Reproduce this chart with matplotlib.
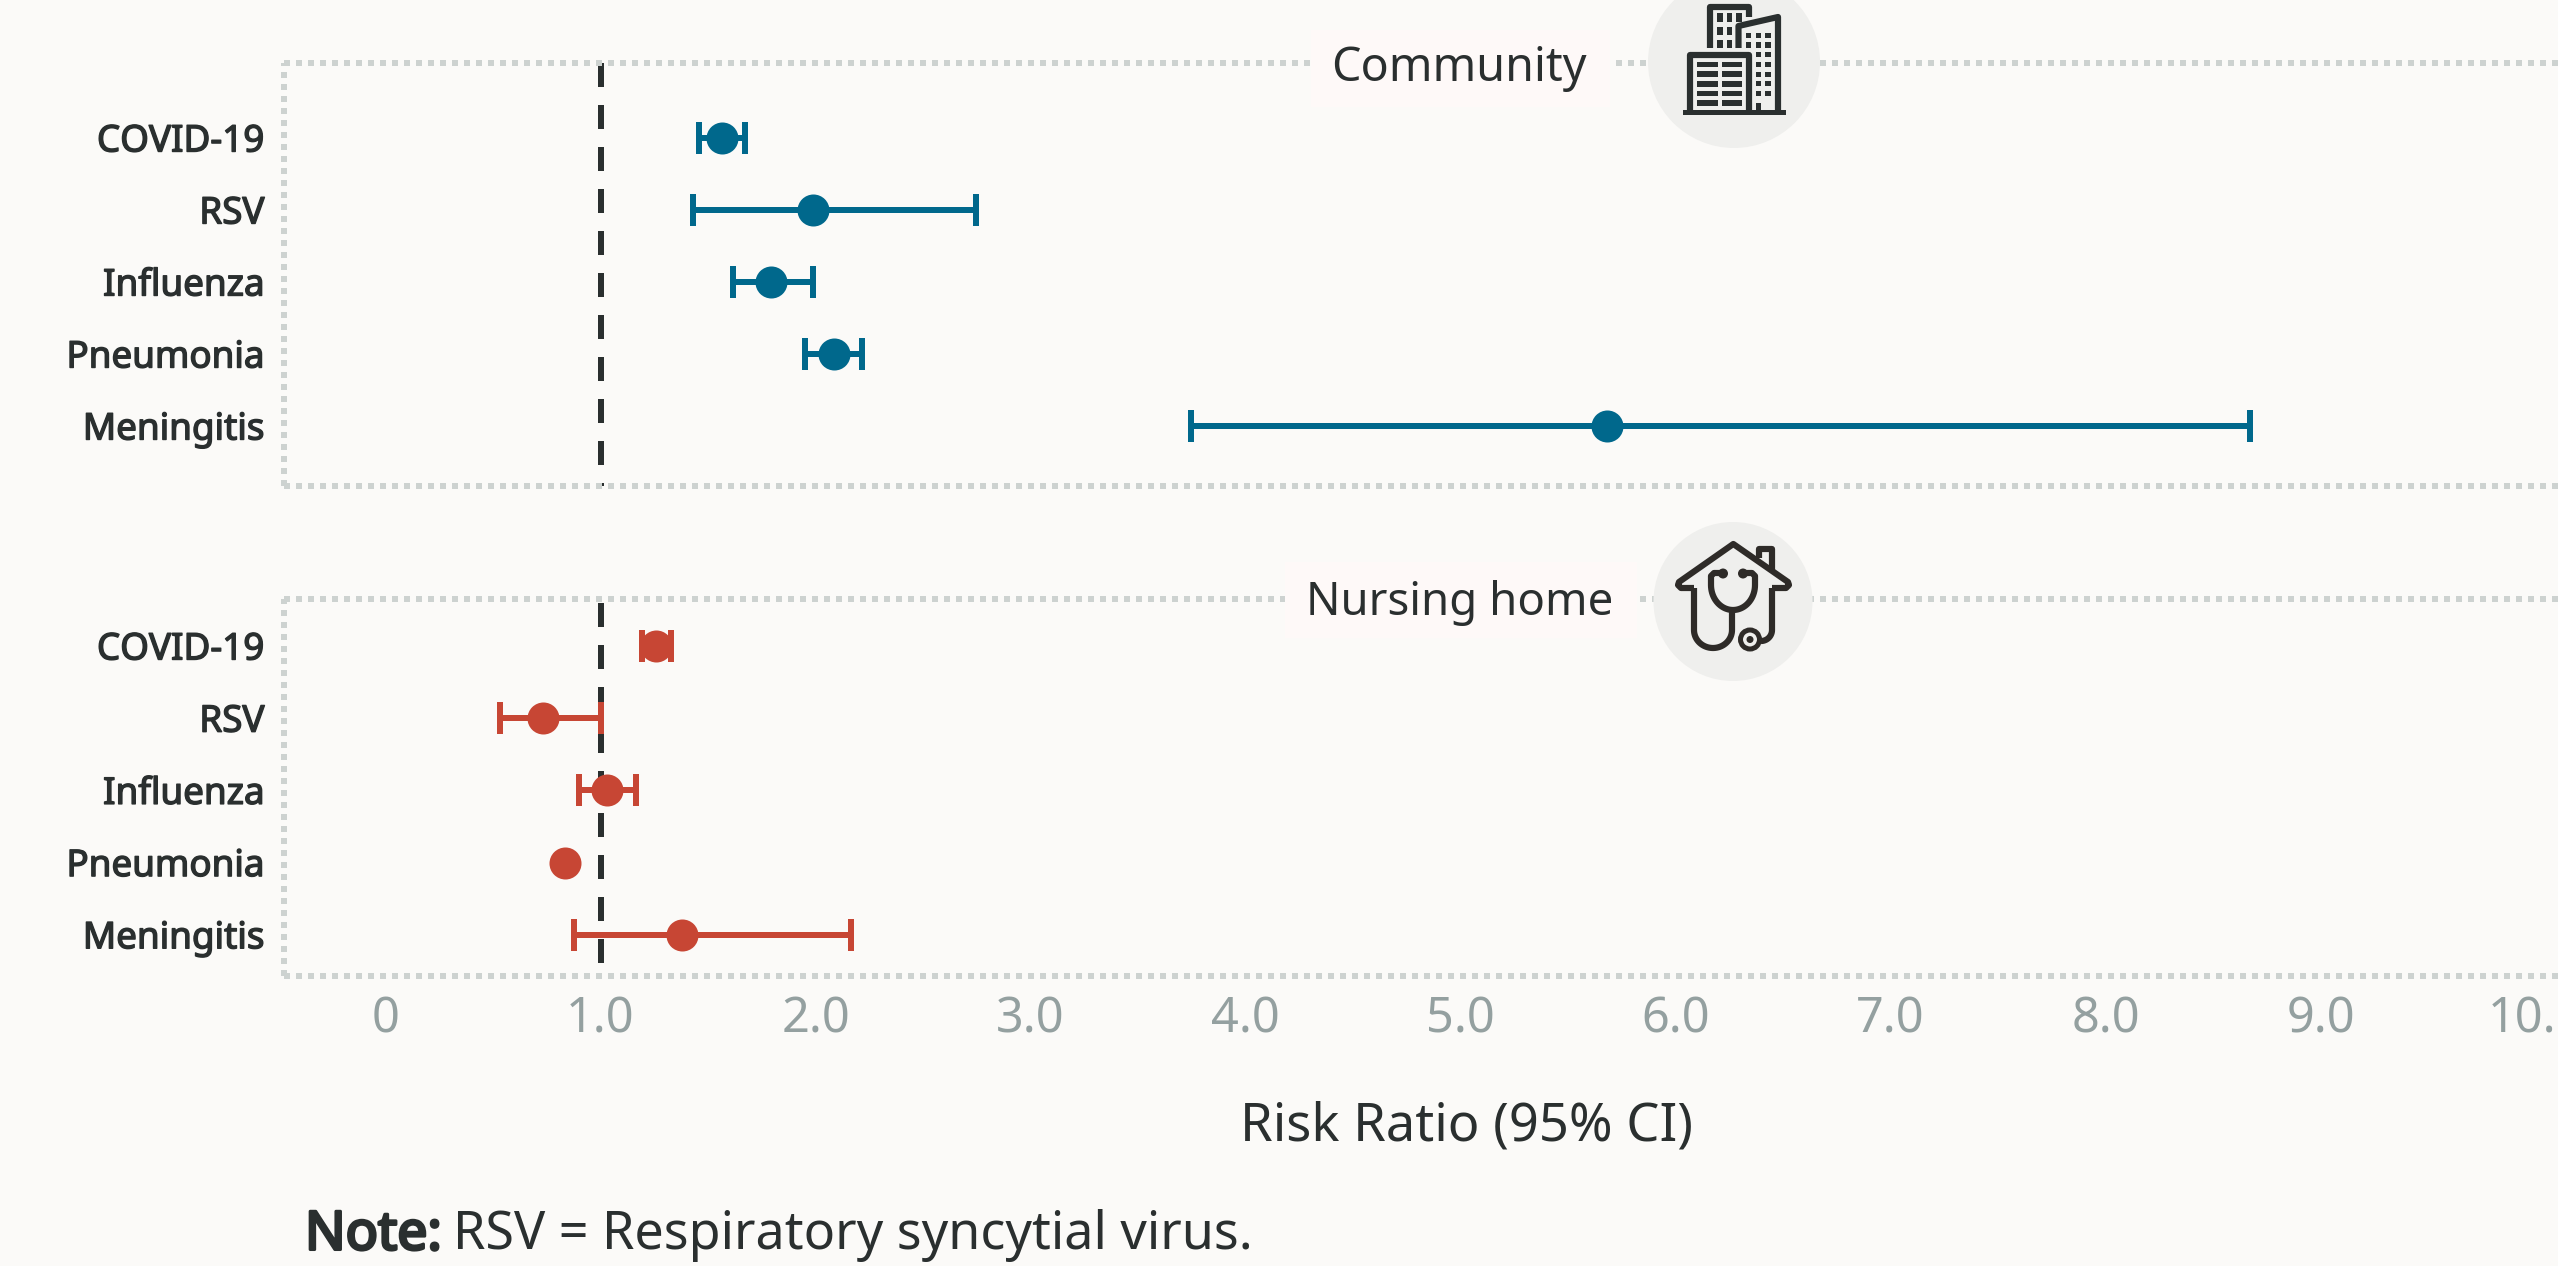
import numpy as np
import matplotlib
matplotlib.use("Agg")
import matplotlib.pyplot as plt
import matplotlib.patheffects as pe
from matplotlib.patches import Circle, Rectangle

# Risk ratios (95% CI)
conditions = ["COVID-19", "RSV", "Influenza", "Pneumonia", "Meningitis"]
community_rr = [1.565, 1.99, 1.795, 2.086, 5.68]
community_low = [1.46, 1.43, 1.615, 1.95, 3.746]
community_high = [1.67, 2.745, 1.99, 2.217, 8.67]
nursing_rr = [1.26, 0.734, 1.03, 0.833, 1.38]
nursing_low = [1.195, 0.534, 0.90, np.nan, 0.876]
nursing_high = [1.33, 1.0, 1.166, np.nan, 2.165]
x_ticks = [0, 1, 2, 3, 4, 5, 6, 7, 8, 9, 10]
x_tick_labels = ["0", "1.0", "2.0", "3.0", "4.0", "5.0", "6.0", "7.0", "8.0", "9.0", "10.0"]

W, H = 2558, 1266
BG = "#FBFAF8"
INK = "#2A2F2F"
BLUE = "#00688C"
RED = "#C74634"
DOTS = "#CDD2D0"
TICK = "#94A0A0"
px = 72 / 100  # one pixel in points at dpi 100

plt.rcParams["font.family"] = ["Noto Sans", "DejaVu Sans"]
fig = plt.figure(figsize=(W / 100, H / 100), dpi=100, facecolor=BG)


def heavier(width, color=INK):
    """ The installed Noto Sans has one weight, so thicken it with an outline. """
    return [pe.withStroke(linewidth=width, foreground=color)]


def panel(top, bottom, row0, step, rr, low, high, color, ref_start=0.0):
    """ Axes placed by pixel edges, with x shared scale 0 = 385.5 px, 215 px per unit. """
    ax = fig.add_axes([284 / W, 1 - bottom / H, (W - 284) / W, (bottom - top) / H])
    ax.set_facecolor(BG)
    ax.set_xlim((284 - 385.5) / 215, (W - 385.5) / 215)
    ax.set_ylim((bottom - row0) / step, (top - row0) / step)
    for name in ["top", "left", "bottom"]:
        ax.spines[name].set_color(DOTS)
        ax.spines[name].set_linewidth(6 * px)
        ax.spines[name].set_linestyle((0, (1, 1)))
        ax.spines[name].set_capstyle("butt")
    ax.spines["right"].set_visible(False)

    ax.axvline(1, ymin=1 - ref_start, ymax=0, color=INK, lw=6 * px,
               dashes=(24 / 6, 18 / 6), dash_capstyle="butt", zorder=1)

    rr, low, high = np.array(rr), np.array(low), np.array(high)
    ax.errorbar(rr, range(len(rr)), xerr=[rr - low, high - rr], fmt="o", color=color,
                ms=26 * px, mew=6 * px, elinewidth=6 * px, capsize=16 * px, zorder=3)

    ax.set_yticks(range(len(conditions)))
    ax.set_yticklabels(conditions, fontsize=26.5, color=INK, path_effects=heavier(1.0))
    ax.tick_params(axis="y", length=0, pad=14)
    ax.set_xticks(x_ticks)
    ax.set_xticklabels([])
    ax.tick_params(axis="x", length=0)
    return ax


panel(63, 486, 138, 72, community_rr, community_low, community_high, BLUE)
ax2 = panel(599, 976, 646, 72.2, nursing_rr, nursing_low, nursing_high, RED, 0.01)
ax2.set_xticklabels(x_tick_labels, fontsize=35, color=TICK)
ax2.tick_params(axis="x", pad=13)

# overlay in pixel coordinates for the headers and the two icons
ov = fig.add_axes([0, 0, 1, 1])
ov.set_xlim(0, W)
ov.set_ylim(H, 0)
ov.axis("off")
ov.patch.set_alpha(0)


def box(x0, y0, x1, y1, color=INK, z=6):
    ov.add_patch(Rectangle((x0, y0), x1 - x0, y1 - y0, fc=color, ec="none", zorder=z))


def stroke(xs, ys, lw=6.2, color=INK):
    ov.plot(xs, ys, color=color, lw=lw * px, solid_capstyle="butt",
            solid_joinstyle="round", zorder=6)


def arc(cx, cy, rx, ry, t0, t1):
    t = np.radians(np.linspace(t0, t1, 40))
    return cx + rx * np.cos(t), cy + ry * np.sin(t)


def building():
    # back tower
    stroke([1709.5, 1709.5, 1749, 1749], [48, 6.5, 6.5, 17])
    for x0 in [1717, 1726.6, 1736]:
        for y0, y1 in [(13, 22), (27, 35), (40, 48)]:
            if x0 == 1736 and y0 > 13:
                continue
            box(x0, y0, x0 + 5.6, y1)
    # middle tower
    stroke([1738.5, 1738.5, 1778, 1778], [48, 26, 17, 110])
    for x0 in [1745.6, 1755.5, 1765]:
        for y0, y1 in [(33, 38), (42, 48)]:
            box(x0, y0, x0 + 5.6, y1)
    for x0 in [1755.5, 1765]:
        for y0 in [52, 62, 72, 81, 91]:
            box(x0, y0, x0 + 5.6, y0 + 5)
    box(1756, 103, 1761, 110)
    # front block
    stroke([1690, 1690, 1748.5, 1748.5], [112, 54.5, 54.5, 112])
    for x0, x1 in [(1697, 1717.7), (1721.5, 1742)]:
        for y0 in [61.7, 71.3, 81, 90.7, 100.3]:
            box(x0, y0, x1, y0 + 5.6)
    box(1682.5, 110, 1786, 115.3)


def house():
    ink = "#2E2B28"
    # roof and chimney
    stroke([1694, 1681, 1678, 1679, 1733.3, 1788, 1789, 1786, 1772],
           [588, 588, 585, 582, 544, 582, 585, 588, 588], color=ink)
    stroke([1759, 1759, 1772, 1772], [558, 549, 549, 570], color=ink)
    # left wall running into the tube of the stethoscope
    ux, uy = arc(1713, 630, 19, 18, 180, 0)
    stroke(np.r_[1694, ux, 1732, 1732], np.r_[588, uy, 630, 612], color=ink)
    # right wall running into the chest piece
    wx, wy = arc(1761, 630, 11, 11, 0, 90)
    stroke(np.r_[1772, wx], np.r_[588, wy], color=ink)
    # ear tube
    bx, by = arc(1733, 585, 22, 25, 180, 0)
    stroke(np.r_[1722, 1714, 1711, bx, 1755, 1752, 1744],
           np.r_[573, 573, 576, by, 576, 573, 573], color=ink)
    ov.add_patch(Circle((1723, 573.5), 5, fc=ink, ec="none", zorder=6))
    ov.add_patch(Circle((1743, 573.5), 5, fc=ink, ec="none", zorder=6))
    ov.add_patch(Circle((1750, 639.5), 9.5, fc="#EFEFED", ec=ink, lw=5 * px, zorder=7))
    ov.add_patch(Circle((1750, 639.5), 3.5, fc=ink, ec="none", zorder=8))


box(1311, 30, 1610, 107, color="#FEF9F8", z=4)
ov.add_patch(Circle((1734, 62), 86, fc="#EFEFED", ec="none", zorder=5))
ov.text(1459, 69, "Community", ha="center", va="center", fontsize=33.6, color=INK, zorder=6)
building()

box(1285, 562, 1637, 638, color="#FEF9F8", z=4)
ov.add_patch(Circle((1733, 601.5), 79.5, fc="#EFEFED", ec="none", zorder=5))
ov.text(1460, 603, "Nursing home", ha="center", va="center", fontsize=32.8, color=INK, zorder=6)
house()

ov.text(1466, 1127, "Risk Ratio (95% CI)", ha="center", va="center", fontsize=37.8, color=INK)
ov.text(305, 1236, "Note:", ha="left", va="center", fontsize=38.5, color=INK,
        path_effects=heavier(2.2))
ov.text(453, 1236, "RSV = Respiratory syncytial virus.", ha="left", va="center", fontsize=37.5,
        color=INK)

fig.savefig("out.png", dpi=100, facecolor=BG)
